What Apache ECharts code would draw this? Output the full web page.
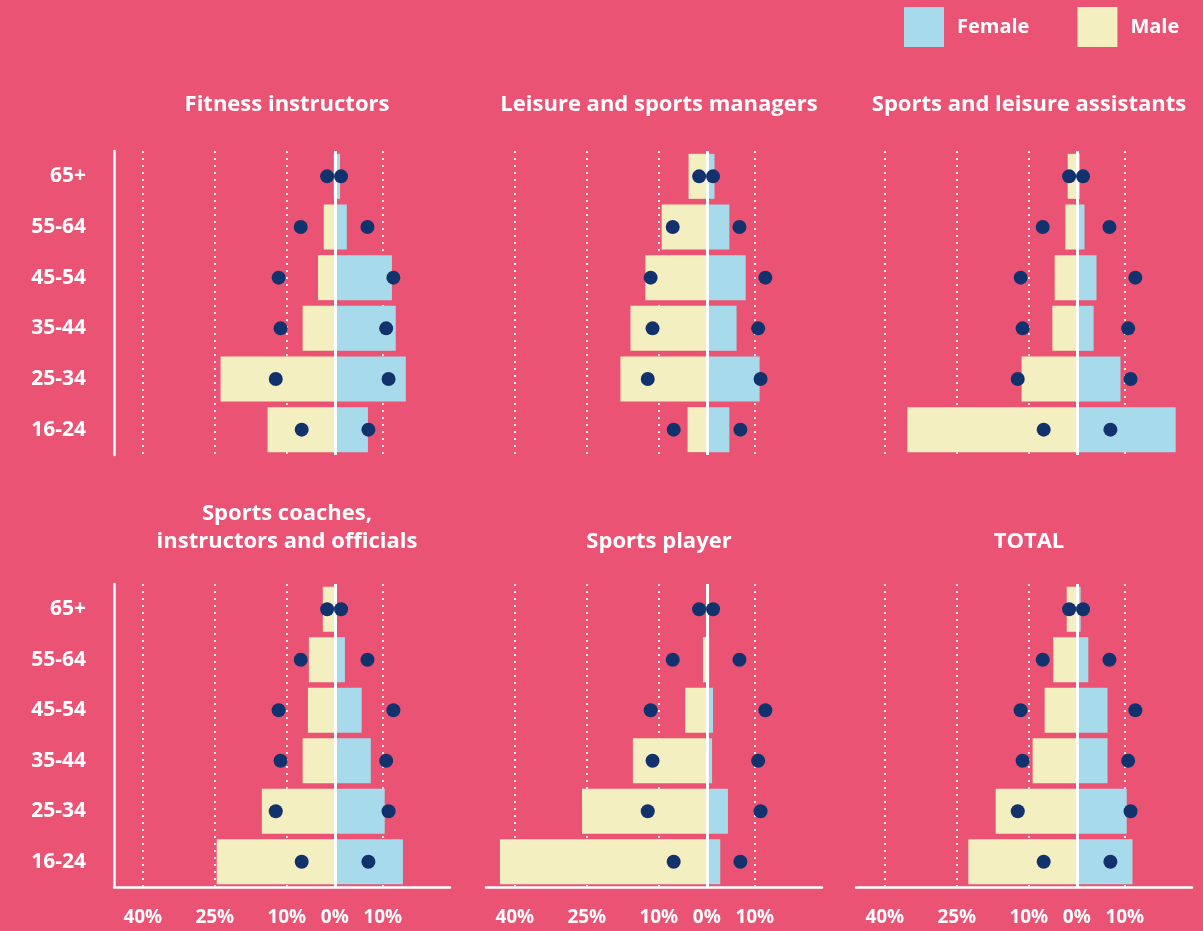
<!DOCTYPE html>
<html>
<head>
<meta charset="utf-8">
<title>Sport and leisure workforce by age and sex</title>
<script src="https://cdn.jsdelivr.net/npm/echarts@6/dist/echarts.min.js"></script>
<style>
  html, body { margin: 0; padding: 0; background: #ea5373; }
  #chart { width: 1203px; height: 931px; }
</style>
</head>
<body>
<div id="chart"></div>
<script>
// age bands, youngest first (category axis draws index 0 at the bottom)
var ageGroups = ['16-24', '25-34', '35-44', '45-54', '55-64', '65+'];
var axisTicks = [-40, -25, -10, 0, 10];

var panelTitles = [
  'Fitness instructors',
  'Leisure and sports managers',
  'Sports and leisure assistants',
  'Sports coaches,\ninstructors and officials',
  'Sports player',
  'TOTAL'
];

// share of the occupation's workers in each band, %
var fitnessMale = [14.0, 23.8, 6.7, 3.5, 2.3, 0.2];
var fitnessFemale = [6.9, 14.8, 12.7, 11.9, 2.5, 1.1];
var managersMale = [4.0, 18.0, 15.9, 12.8, 9.4, 3.8];
var managersFemale = [4.7, 11.0, 6.2, 8.1, 4.7, 1.6];
var assistantsMale = [35.3, 11.5, 5.1, 4.6, 2.4, 1.9];
var assistantsFemale = [20.6, 9.1, 3.5, 4.1, 1.6, 0.6];
var coachesMale = [24.6, 15.2, 6.7, 5.6, 5.4, 2.5];
var coachesFemale = [14.2, 10.4, 7.5, 5.6, 2.1, 0.2];
var playersMale = [43.1, 26.0, 15.4, 4.5, 0.8, 0.1];
var playersFemale = [2.8, 4.4, 1.1, 1.3, 0.5, 0.4];
var totalMale = [22.6, 16.9, 9.2, 6.7, 4.9, 2.1];
var totalFemale = [11.6, 10.4, 6.4, 6.4, 2.4, 0.8];

// dots: the whole workforce, same in every panel
var workforceMale = [6.9, 12.3, 11.3, 11.7, 7.1, 1.6];
var workforceFemale = [7.0, 11.2, 10.7, 12.2, 6.8, 1.3];

var maleData = [fitnessMale, managersMale, assistantsMale, coachesMale, playersMale, totalMale];
var femaleData = [fitnessFemale, managersFemale, assistantsFemale, coachesFemale, playersFemale, totalFemale];

var colLeft = [114, 486, 856];
var rowTop = [151, 584];
var rowHeight = [304, 303];
var font = 'Open Sans';

var chart = echarts.init(document.getElementById('chart'));

var grids = [], xAxes = [], yAxes = [], titles = [], series = [];

panelTitles.forEach(function (name, i) {
  var col = i % 3, row = Math.floor(i / 3);
  var lines = name.split('\n').length;

  grids.push({ left: colLeft[col], top: rowTop[row], width: 336, height: rowHeight[row] });

  titles.push({
    text: name,
    left: colLeft[col] + 168,
    top: (row === 0 ? 100 : 537) - 14 - (lines - 1) * 28,
    textAlign: 'center',
    textStyle: { color: '#fff', fontFamily: font, fontWeight: 'bold', fontSize: 22, lineHeight: 28 }
  });

  xAxes.push({
    gridIndex: i,
    type: 'value',
    min: -46,
    max: 24,
    axisLine: { show: row === 1, onZero: false, lineStyle: { color: '#fff', width: 2.5 } },
    axisTick: { show: false, customValues: axisTicks },
    axisLabel: {
      show: row === 1,
      customValues: axisTicks,
      formatter: function (v) { return Math.abs(v) + '%'; },
      color: '#fff', fontFamily: font, fontWeight: 'bold', fontSize: 19, margin: 21
    },
    splitLine: { show: true, lineStyle: { color: '#fff', type: [2, 5], width: 1.8 } }
  });

  yAxes.push({
    gridIndex: i,
    type: 'category',
    data: ageGroups,
    axisLine: { show: col === 0, onZero: false, lineStyle: { color: '#fff', width: 2.5 } },
    axisTick: { show: false },
    axisLabel: {
      show: col === 0,
      color: '#fff', fontFamily: font, fontWeight: 'bold', fontSize: 21, margin: 28
    }
  });

  series.push({
    name: 'Male',
    type: 'bar',
    xAxisIndex: i,
    yAxisIndex: i,
    stack: 'pyramid' + i,
    barWidth: 45,
    itemStyle: { color: '#f4efc1' },
    data: maleData[i].map(function (v) { return -v; })
  });
  series.push({
    name: 'Female',
    type: 'bar',
    xAxisIndex: i,
    yAxisIndex: i,
    stack: 'pyramid' + i,
    barWidth: 45,
    itemStyle: { color: '#a7dbec' },
    data: femaleData[i],
    markLine: {
      silent: true,
      symbol: ['none', 'none'],
      label: { show: false },
      lineStyle: { color: '#fff', type: 'solid', width: 3 },
      data: [{ xAxis: 0 }]
    }
  });

  var dots = [];
  ageGroups.forEach(function (g, k) {
    dots.push([-workforceMale[k], g]);
    dots.push([workforceFemale[k], g]);
  });
  series.push({
    name: 'Workforce',
    type: 'scatter',
    xAxisIndex: i,
    yAxisIndex: i,
    symbolSize: 14,
    z: 5,
    itemStyle: { color: '#12326e', opacity: 1 },
    data: dots
  });
});

chart.setOption({
  backgroundColor: '#ea5373',
  animation: false,
  title: titles,
  legend: {
    data: ['Female', 'Male'],
    left: 904,
    top: 7,
    padding: 0,
    icon: 'rect',
    itemWidth: 40,
    itemHeight: 40,
    itemGap: 48,
    textStyle: { color: '#fff', fontFamily: font, fontWeight: 'bold', fontSize: 20, padding: [0, 0, 0, 8] }
  },
  grid: grids,
  xAxis: xAxes,
  yAxis: yAxes,
  series: series
});
</script>
</body>
</html>
